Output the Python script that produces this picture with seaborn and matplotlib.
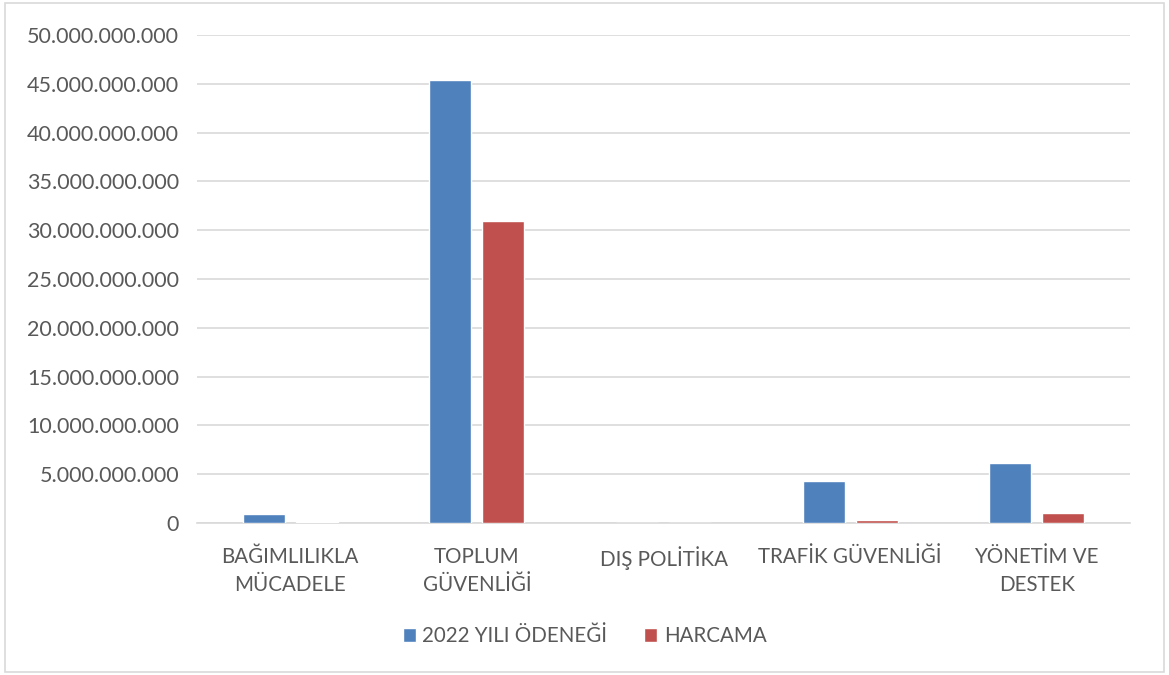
import pandas as pd
import seaborn as sns
import matplotlib.pyplot as plt
from matplotlib.ticker import FuncFormatter, MultipleLocator

# categories and series
categories = ['BAĞIMLILIKLA\nMÜCADELE', 'TOPLUM\nGÜVENLİĞİ', 'DIŞ POLİTİKA',
              'TRAFİK GÜVENLİĞİ', 'YÖNETİM VE\nDESTEK']
series_names = ['2022 YILI ÖDENEĞİ', 'HARCAMA']
odenek = [0.95e9, 45.4e9, 0.05e9, 4.3e9, 6.15e9]
harcama = [0.08e9, 30.9e9, 0.01e9, 0.3e9, 1.05e9]

df = pd.DataFrame({
    'kategori': categories * 2,
    'seri': [series_names[0]] * 5 + [series_names[1]] * 5,
    'deger': odenek + harcama,
})

sns.set_style('white')
plt.rcParams['font.family'] = ['Lato', 'DejaVu Sans']
text_color = '#595959'

fig = plt.figure(figsize=(11.69, 6.75), dpi=100)
ax = fig.add_axes([197 / 1169, 1 - 523 / 675, (1130 - 197) / 1169, (523 - 35) / 675])

sns.barplot(data=df, x='kategori', y='deger', hue='seri',
            palette=['#4F81BD', '#C0504D'], saturation=1, width=0.568, gap=0.21,
            ax=ax, zorder=3)

ax.set_ylim(0, 50e9)
ax.set_xlim(-0.5, 4.5)
ax.yaxis.set_major_locator(MultipleLocator(5e9))
ax.yaxis.set_major_formatter(FuncFormatter(lambda v, p: f'{int(v):,}'.replace(',', '.')))
ax.grid(axis='y', color='#D9D9D9', linewidth=1.2, zorder=0)
ax.set_xlabel('')
ax.set_ylabel('')
for s in ['left', 'right', 'top']:
    ax.spines[s].set_visible(False)
ax.spines['bottom'].set_color('#D9D9D9')
ax.spines['bottom'].set_linewidth(1.2)
ax.tick_params(axis='y', length=0, labelsize=15.5, colors=text_color, pad=13)
ax.tick_params(axis='x', length=0, labelsize=14.8, colors=text_color, pad=17)
for lbl in ax.get_xticklabels():
    lbl.set_linespacing(1.5)

ax.legend(loc='center', bbox_to_anchor=(0.5, 1 - 636 / 675), bbox_transform=fig.transFigure,
          ncol=2, frameon=False, fontsize=14.8, labelcolor=text_color,
          handlelength=0.65, handleheight=0.65, handletextpad=0.3, columnspacing=1.8)

fig.patches.append(plt.Rectangle((0.004, 0.004), 0.992, 0.992, transform=fig.transFigure,
                                 fill=False, edgecolor='#D9D9D9', linewidth=1.2))

fig.savefig('out.png', dpi=100)
